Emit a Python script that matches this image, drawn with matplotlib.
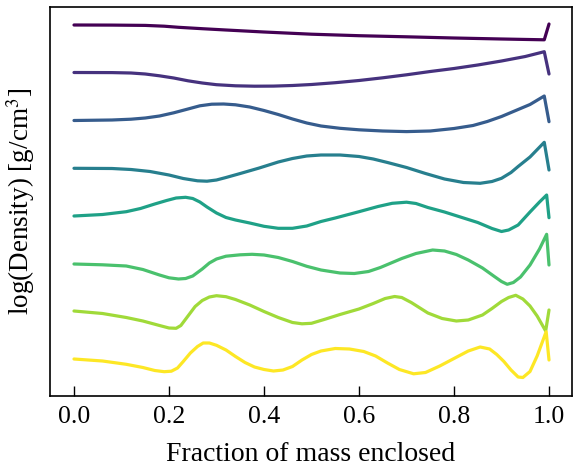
import numpy as np
import matplotlib
matplotlib.use("Agg")
import matplotlib.pyplot as plt

# Profiles (values are vertical positions read in pixels, top = small)
x1 = [0, 0.08, 0.15, 0.19, 0.22, 0.27, 0.32, 0.4, 0.5, 0.6, 0.7, 0.8, 0.9, 0.99, 1.0]
v1 = [25, 25.1, 25.4, 26.2, 27.3, 28.7, 30, 32, 34.2, 35.7, 36.8, 38, 39, 39.8, 24]

x2 = [0, 0.08, 0.12, 0.15, 0.18, 0.21, 0.24, 0.27, 0.3, 0.34, 0.38, 0.42, 0.46, 0.5, 0.55,
      0.6, 0.65, 0.7, 0.75, 0.8, 0.85, 0.9, 0.95, 0.99, 1.0]
v2 = [72.5, 72.6, 73, 74, 75.8, 78, 80.8, 83, 84.7, 85.8, 86.2, 86.1, 85.5, 84.5, 82.7,
      80.5, 77.8, 74.8, 71.5, 68.5, 65, 61, 56.5, 51.7, 74]

x3 = [0, 0.08, 0.12, 0.15, 0.18, 0.21, 0.24, 0.265, 0.29, 0.315, 0.34, 0.37, 0.4, 0.43,
      0.46, 0.49, 0.52, 0.56, 0.6, 0.65, 0.7, 0.75, 0.8, 0.84, 0.87, 0.9, 0.92, 0.935,
      0.96, 0.99, 1.0]
v3 = [120.5, 120, 119.2, 118, 116, 112.8, 109, 105.8, 104.2, 104, 104.8, 107, 110.5, 114.5,
      119, 123, 126, 128.3, 129.8, 131, 131.6, 131, 128.5, 125.5, 121.5, 116.5, 112.5, 109.5,
      104.5, 96, 121.7]

x4 = [0, 0.08, 0.12, 0.16, 0.2, 0.23, 0.26, 0.28, 0.3, 0.32, 0.35, 0.39, 0.43, 0.46, 0.49,
      0.52, 0.56, 0.6, 0.63, 0.66, 0.7, 0.74, 0.78, 0.82, 0.855, 0.88, 0.9, 0.92, 0.935,
      0.96, 0.99, 1.0]
v4 = [168.3, 168.5, 169.5, 171.5, 175, 178.5, 180.8, 181.2, 180, 177.5, 173.5, 168, 162,
      158.5, 156, 155, 155, 156.5, 159, 162.5, 167.5, 173.5, 179, 182.5, 183.3, 181.5, 178.3,
      172.5, 166.5, 157, 142.3, 170]

x5 = [0, 0.06, 0.11, 0.14, 0.17, 0.195, 0.215, 0.235, 0.25, 0.265, 0.28, 0.3, 0.32, 0.34,
      0.37, 0.4, 0.43, 0.46, 0.49, 0.52, 0.55, 0.6, 0.64, 0.67, 0.7, 0.72, 0.745, 0.78, 0.81,
      0.85, 0.88, 0.9, 0.915, 0.935, 0.96, 0.98, 0.995, 1.0]
v5 = [216, 214.5, 211.7, 208.5, 204, 200.5, 198, 197.3, 198.5, 202, 207, 213, 217.5, 220,
      223, 226.3, 228.3, 228.3, 226, 221.5, 218, 211.7, 206.5, 203.3, 202.2, 203.5, 207.5,
      212, 216.5, 222.5, 228.5, 231.5, 230, 225, 212, 202, 195, 217.7]

x6 = [0, 0.06, 0.11, 0.145, 0.18, 0.2, 0.22, 0.235, 0.25, 0.27, 0.285, 0.3, 0.32, 0.35,
      0.375, 0.4, 0.43, 0.46, 0.49, 0.52, 0.56, 0.59, 0.62, 0.645, 0.665, 0.69, 0.72, 0.755,
      0.78, 0.805, 0.83, 0.86, 0.885, 0.9, 0.912, 0.925, 0.94, 0.96, 0.98, 0.995, 1.0]
v6 = [264, 264.8, 266, 269.5, 275, 277.8, 279, 278.5, 276, 269, 263, 259, 256.2, 254.8,
      254.3, 255, 257.5, 261.5, 266.3, 270, 273, 273.5, 271.5, 267.5, 263.5, 258.5, 253.5,
      250, 251, 254.5, 260, 268, 276.5, 281.5, 284.3, 282.5, 277, 265, 249, 234.3, 265]

x7 = [0, 0.06, 0.11, 0.145, 0.18, 0.2, 0.215, 0.225, 0.24, 0.255, 0.27, 0.285, 0.3, 0.32,
      0.34, 0.37, 0.4, 0.43, 0.46, 0.48, 0.5, 0.53, 0.56, 0.6, 0.63, 0.655, 0.675, 0.69,
      0.71, 0.745, 0.775, 0.805, 0.83, 0.86, 0.88, 0.9, 0.915, 0.93, 0.945, 0.96, 0.975,
      0.993, 1.0]
v7 = [311, 313.5, 317.5, 321, 325.5, 328, 328.3, 325.5, 316, 306.5, 300.5, 297, 295.7,
      296.7, 299.5, 305, 311.5, 317.5, 322.5, 323.8, 323.3, 319, 314.5, 309, 303.5, 298.5,
      296.5, 297.5, 302.5, 313, 318.5, 321, 320, 315, 308.5, 301.5, 297.5, 295.3, 299, 306,
      316, 331, 310]

x8 = [0, 0.06, 0.11, 0.145, 0.17, 0.19, 0.205, 0.218, 0.23, 0.245, 0.26, 0.272, 0.285, 0.3,
      0.32, 0.34, 0.36, 0.38, 0.4, 0.42, 0.44, 0.46, 0.48, 0.5, 0.52, 0.55, 0.58, 0.61,
      0.635, 0.66, 0.685, 0.715, 0.74, 0.77, 0.8, 0.83, 0.855, 0.875, 0.89, 0.905, 0.92,
      0.935, 0.945, 0.96, 0.975, 0.994, 1.0]
v8 = [359, 361, 364.3, 367.5, 370.5, 371.7, 371.2, 368, 361.5, 353, 346.5, 343, 343, 345.3,
      350, 356.5, 362.5, 367, 369.5, 371, 370, 366.5, 360, 354.5, 351, 348.5, 349, 351.5,
      356, 363, 369.5, 373.8, 372.5, 366, 358.5, 351, 347, 349, 354.5, 361.5, 370, 377,
      377.5, 371.5, 356, 331.7, 360]

xs = [x1, x2, x3, x4, x5, x6, x7, x8]
vs = [v1, v2, v3, v4, v5, v6, v7, v8]

plt.rcParams['font.family'] = ['Liberation Serif', 'DejaVu Serif']
plt.rcParams['mathtext.fontset'] = 'stix'

fig = plt.figure(figsize=(5.73, 4.66), dpi=100)
ax = fig.add_axes([50/573, 1-396/466, 522/573, 389/466])

colors = plt.cm.viridis(np.linspace(0, 1, len(xs)))
for x, v, c in zip(xs, vs, colors):
    ax.plot(x, -np.array(v), color=c, lw=2.3, solid_joinstyle='round',
            solid_capstyle='round')

ax.set_xlim(-0.0505, 1.0484)
ax.set_ylim(-396, -7)
ax.set_yticks([])
ax.set_xticks([0.0, 0.2, 0.4, 0.6, 0.8, 1.0])
ax.set_xticklabels(['0.0', '0.2', '0.4', '0.6', '0.8', '1.0'])
ax.tick_params(axis='x', direction='in', length=7, width=1, labelsize=18.5, pad=7)
for s in ax.spines.values():
    s.set_linewidth(1.2)
ax.set_xlabel('Fraction of mass enclosed', fontsize=20, labelpad=10)
ax.set_ylabel('log(Density) [g/cm$^3$]', fontsize=19.5, labelpad=9)

fig.savefig('out.png', dpi=100)
